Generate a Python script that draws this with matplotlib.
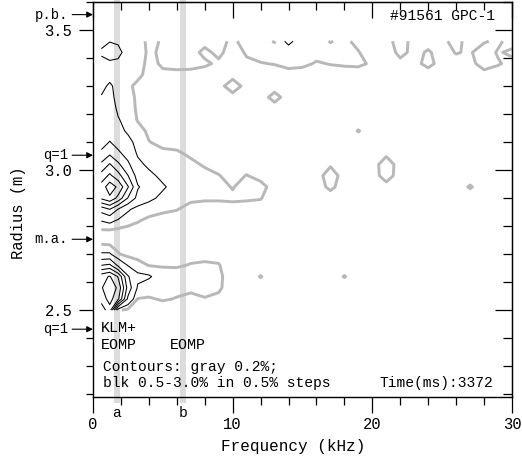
import matplotlib
matplotlib.use("Agg")
import matplotlib.pyplot as plt
import numpy as np
from matplotlib.ticker import FixedLocator, MultipleLocator
from matplotlib.patches import Rectangle

plt.rcParams["font.family"] = ["Liberation Mono", "DejaVu Sans Mono"]

# ---- data -------------------------------------------------------------
# frequency columns (kHz) and radius rows (m) of the fluctuation map
freq_khz = [0.6, 1.2, 1.8, 2.5, 3.2, 4.0, 5.0, 6.0, 7.0, 8.0, 9.0, 10.0,
            11.0, 12.0, 13.0, 14.0, 15.0, 16.0, 17.0, 18.0, 19.0, 20.0,
            21.0, 22.0, 23.0, 24.0, 25.0, 26.0, 27.0, 28.0, 29.0, 30.0]
radius_m = [2.50, 2.54, 2.58, 2.62, 2.66, 2.70, 2.74, 2.78, 2.82, 2.86,
            2.90, 2.94, 2.98, 3.02, 3.06, 3.10, 3.14, 3.18, 3.22, 3.26,
            3.30, 3.34, 3.38, 3.42, 3.46]

# relative fluctuation amplitude, hundredths of a percent (row = radius)
amp_hundredths = [
    [220, 280, 25, 12, 10, 10, 10, 10, 10, 10, 10, 10, 10, 10, 10, 10, 10, 10, 10, 10, 10, 10, 10, 10, 10, 10, 10, 10, 10, 10, 10, 10],
    [270, 320, 260, 90, 19, 18, 22, 19, 14, 19, 16, 10, 10, 10, 10, 10, 10, 10, 10, 10, 10, 10, 10, 10, 10, 10, 10, 10, 10, 10, 10, 10],
    [295, 335, 290, 130, 45, 30, 26, 25, 25, 26, 23, 10, 10, 10, 10, 10, 10, 10, 10, 10, 10, 10, 10, 10, 10, 10, 10, 10, 10, 10, 10, 10],
    [280, 305, 245, 105, 60, 55, 30, 28, 28, 26, 24, 10, 10, 21, 10, 10, 10, 10, 10, 21, 10, 10, 10, 10, 10, 10, 10, 10, 10, 10, 10, 10],
    [150, 160, 90, 48, 30, 19, 18, 18, 21, 22, 21, 10, 10, 10, 10, 10, 10, 10, 10, 10, 10, 10, 10, 10, 10, 10, 10, 10, 10, 10, 10, 10],
    [55, 55, 22, 12, 10, 10, 10, 10, 15, 16, 15, 10, 10, 10, 10, 10, 10, 10, 10, 10, 10, 10, 10, 10, 10, 10, 10, 10, 10, 10, 10, 10],
    [15, 13, 10, 10, 10, 10, 10, 10, 10, 10, 10, 10, 10, 10, 10, 10, 10, 10, 10, 10, 10, 10, 10, 10, 10, 10, 10, 10, 10, 10, 10, 10],
    [13, 12, 10, 10, 10, 10, 10, 10, 10, 10, 10, 10, 10, 10, 10, 10, 10, 10, 10, 10, 10, 10, 10, 10, 10, 10, 10, 10, 10, 10, 10, 10],
    [52, 62, 45, 30, 22, 15, 12, 10, 10, 10, 10, 10, 10, 10, 10, 10, 10, 10, 10, 10, 10, 10, 10, 10, 10, 10, 10, 10, 10, 10, 10, 10],
    [120, 150, 98, 56, 36, 30, 24, 21, 12, 14, 14, 14, 14, 13, 10, 10, 10, 10, 10, 10, 10, 10, 10, 10, 10, 10, 10, 10, 10, 10, 10, 10],
    [260, 290, 235, 148, 85, 60, 40, 30, 25, 22, 22, 23, 22, 21, 10, 10, 10, 10, 10, 10, 10, 10, 10, 10, 10, 10, 10, 10, 10, 10, 10, 10],
    [270, 330, 290, 205, 105, 75, 55, 35, 30, 28, 25, 19, 27, 28, 10, 10, 10, 10, 25, 10, 10, 10, 12, 10, 10, 10, 10, 10, 22, 10, 10, 10],
    [220, 260, 220, 152, 80, 60, 40, 30, 30, 28, 21, 12, 21, 12, 10, 10, 10, 10, 32, 10, 10, 10, 30, 10, 10, 10, 10, 10, 10, 10, 10, 10],
    [160, 205, 160, 110, 60, 42, 35, 28, 26, 17, 12, 10, 10, 10, 10, 10, 10, 10, 17, 10, 10, 10, 32, 10, 10, 10, 10, 10, 10, 10, 10, 10],
    [110, 140, 110, 80, 45, 30, 26, 24, 15, 10, 10, 10, 10, 10, 10, 10, 10, 10, 10, 10, 10, 10, 15, 10, 10, 10, 10, 10, 10, 10, 10, 10],
    [80, 102, 80, 60, 40, 21, 12, 10, 10, 10, 10, 10, 10, 10, 10, 10, 10, 10, 10, 10, 10, 10, 10, 10, 10, 10, 10, 10, 10, 10, 10, 10],
    [65, 80, 60, 45, 30, 15, 10, 10, 10, 10, 10, 10, 10, 10, 10, 10, 10, 10, 10, 10, 21, 10, 10, 10, 10, 10, 10, 10, 10, 10, 10, 10],
    [60, 70, 52, 40, 18, 10, 10, 10, 10, 10, 10, 10, 10, 10, 10, 10, 10, 10, 10, 10, 10, 10, 10, 10, 10, 10, 10, 10, 10, 10, 10, 10],
    [55, 65, 45, 35, 15, 10, 10, 10, 10, 10, 10, 10, 10, 10, 10, 10, 10, 10, 10, 10, 10, 10, 10, 10, 10, 10, 10, 10, 10, 10, 10, 10],
    [52, 60, 40, 30, 15, 10, 10, 10, 10, 10, 10, 10, 10, 10, 28, 10, 10, 10, 10, 10, 10, 10, 10, 10, 10, 10, 10, 10, 10, 10, 10, 10],
    [42, 55, 40, 25, 14, 10, 10, 10, 10, 10, 10, 35, 10, 10, 10, 10, 10, 10, 10, 10, 10, 10, 10, 10, 10, 10, 10, 10, 10, 10, 10, 10],
    [35, 40, 38, 32, 26, 12, 15, 15, 15, 12, 10, 10, 10, 10, 10, 10, 10, 10, 10, 10, 10, 10, 10, 10, 10, 10, 10, 10, 10, 15, 10, 10],
    [40, 40, 42, 38, 33, 12, 24, 26, 25, 23, 17, 10, 17, 19, 21, 28, 25, 18, 21, 23, 24, 17, 10, 15, 14, 26, 12, 14, 16, 26, 22, 14],
    [55, 75, 60, 35, 35, 15, 25, 28, 26, 16, 24, 12, 22, 27, 27, 27, 27, 27, 27, 27, 21, 10, 10, 25, 15, 22, 13, 21, 18, 30, 18, 24],
    [40, 48, 45, 35, 30, 15, 22, 25, 25, 25, 23, 18, 24, 25, 19, 62, 25, 26, 19, 24, 15, 10, 12, 30, 12, 14, 16, 26, 12, 18, 24, 12],
]

gray_levels = [0.2]
black_levels = [0.5, 1.0, 1.5, 2.0, 2.5, 3.0]

# reference radii marked on the left axis
marker_labels = ["p.b.", "q=1", "m.a.", "q=1"]
marker_radii = [3.555, 3.053, 2.753, 2.432]

# diagnostic channel frequencies
band_labels = ["a", "b"]
band_freqs = [1.7, 6.45]

# ---- figure -----------------------------------------------------------
W, H = 522, 458
fig = plt.figure(figsize=(W / 100, H / 100), dpi=100)
ax = fig.add_axes([93 / W, 1 - 397 / H, 419 / W, 395 / H])
ax.set_xlim(0, 30)
ax.set_ylim(2.19, 3.60)

amp = np.array(amp_hundredths, dtype=float) / 100.0
F, R = np.meshgrid(freq_khz, radius_m)

# channel bands behind everything
for lab, f0 in zip(band_labels, band_freqs):
    ax.add_patch(Rectangle((f0 - 0.2, 2.17), 0.4, 1.45, facecolor="#dcdcdc",
                           edgecolor="none", zorder=0, clip_on=False))
    ax.text(f0, 2.133, lab, ha="center", va="center", fontsize=10.5,
            clip_on=False)

ax.contour(F, R, amp, levels=gray_levels, colors="#b8b8b8",
           linewidths=2.1, zorder=2)
ax.contour(F, R, amp, levels=black_levels, colors="black",
           linewidths=0.75, zorder=3)

# axes, ticks
for s in ax.spines.values():
    s.set_linewidth(1.0)
ax.xaxis.set_major_locator(FixedLocator([0, 10, 20, 30]))
ax.xaxis.set_minor_locator(MultipleLocator(2))
ax.yaxis.set_major_locator(FixedLocator([2.5, 3.0, 3.5]))
ax.yaxis.set_minor_locator(MultipleLocator(0.1))
ax.set_yticklabels(["2.5", "3.0", "3.5"])
ax.tick_params(axis="x", which="major", direction="out", length=11.5,
               width=0.9, labelsize=11.2, pad=3)
ax.tick_params(axis="x", which="minor", direction="out", length=5.8, width=0.9)
ax.tick_params(axis="y", which="major", direction="out", length=10,
               width=0.9, labelsize=11.2, pad=5)
ax.tick_params(axis="y", which="minor", direction="out", length=5, width=0.9)

top = ax.secondary_xaxis("top")
top.xaxis.set_major_locator(FixedLocator([0, 10, 20, 30]))
top.xaxis.set_minor_locator(MultipleLocator(2))
top.tick_params(which="major", direction="in", length=11.5, width=0.9,
                labeltop=False)
top.tick_params(which="minor", direction="in", length=6, width=0.9)
right = ax.secondary_yaxis("right")
right.yaxis.set_major_locator(FixedLocator([2.5, 3.0, 3.5]))
right.yaxis.set_minor_locator(MultipleLocator(0.1))
right.tick_params(which="major", direction="in", length=12, width=0.9,
                  labelright=False)
right.tick_params(which="minor", direction="in", length=6.5, width=0.9)

fig.text(293 / W, 1 - 446 / H, "Frequency (kHz)", ha="center", va="center",
         fontsize=11.5)
fig.text(19 / W, 1 - 213 / H, "Radius (m)", ha="center", va="center",
         rotation=90, fontsize=11.2)

# radius markers with arrows
for lab, r in zip(marker_labels, marker_radii):
    ax.annotate(lab, xy=(0, r), xycoords=("axes fraction", "data"),
                xytext=(-18, 0), textcoords="offset points",
                ha="right", va="center", fontsize=10,
                arrowprops=dict(arrowstyle="-|>", color="black", lw=0.8,
                                mutation_scale=9, shrinkA=1, shrinkB=0))

# annotations inside the panel
ax.text(0.959, 0.9646, "#91561 GPC-1", transform=ax.transAxes, ha="right",
        va="center", fontsize=10.5)
ax.text(0.019, 0.175, "KLM+", transform=ax.transAxes, ha="left",
        va="center", fontsize=10.8)
ax.text(0.019, 0.132, "EOMP", transform=ax.transAxes, ha="left",
        va="center", fontsize=10.8)
ax.text(0.183, 0.132, "EOMP", transform=ax.transAxes, ha="left",
        va="center", fontsize=10.8)
ax.text(0.024, 0.076, "Contours: gray 0.2%;", transform=ax.transAxes,
        ha="left", va="center", fontsize=10.5)
ax.text(0.024, 0.036, "blk 0.5-3.0% in 0.5% steps", transform=ax.transAxes,
        ha="left", va="center", fontsize=10.5)
ax.text(0.955, 0.036, "Time(ms):3372", transform=ax.transAxes,
        ha="right", va="center", fontsize=10.5)

fig.savefig("out.png", dpi=100)
